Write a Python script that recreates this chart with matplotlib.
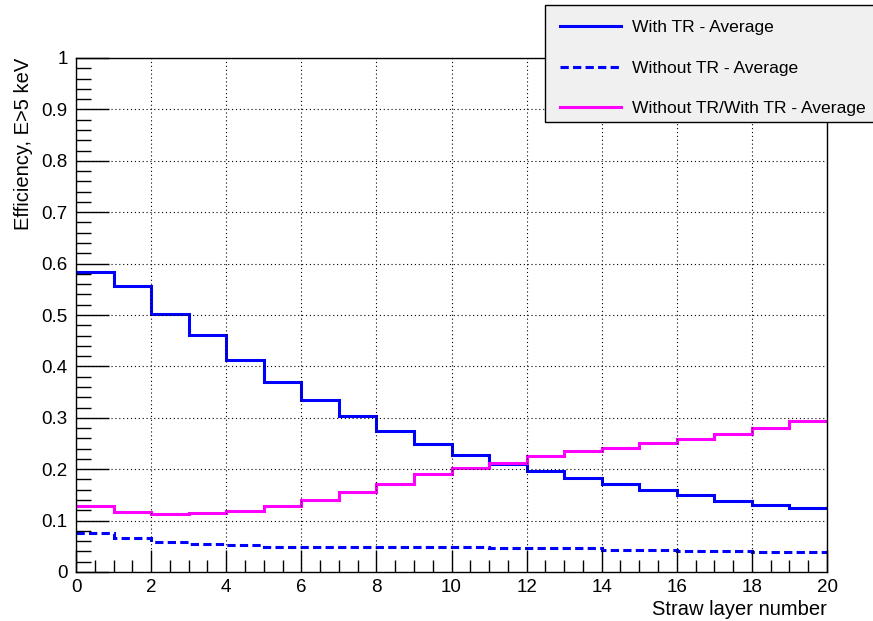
import numpy as np
import matplotlib
matplotlib.use("Agg")
import matplotlib.pyplot as plt
from matplotlib.patches import Rectangle
from matplotlib.ticker import MultipleLocator

# bin edges: straw layers 0..20
edges = np.arange(0, 21)

with_tr = [0.584, 0.556, 0.502, 0.461, 0.413, 0.370, 0.335, 0.304, 0.275,
           0.249, 0.227, 0.211, 0.197, 0.183, 0.171, 0.159, 0.149, 0.139,
           0.131, 0.124]
without_tr = [0.076, 0.067, 0.059, 0.055, 0.052, 0.049, 0.048, 0.048, 0.048,
              0.048, 0.048, 0.046, 0.046, 0.046, 0.043, 0.043, 0.041, 0.041,
              0.038, 0.038]
ratio = [0.128, 0.117, 0.113, 0.115, 0.119, 0.128, 0.141, 0.156, 0.172,
         0.190, 0.202, 0.212, 0.225, 0.236, 0.241, 0.251, 0.258, 0.269,
         0.280, 0.293]

labels = ["With TR - Average", "Without TR - Average",
          "Without TR/With TR - Average"]

plt.rcParams["font.family"] = ["Liberation Sans", "DejaVu Sans"]

W, H = 873, 621
fig = plt.figure(figsize=(W / 100, H / 100), dpi=100)
ax = fig.add_axes([76 / W, 1 - 572 / H, 751 / W, 514 / H])

ax.stairs(with_tr, edges, baseline=None, color="#0000ff", lw=2.2,
          label=labels[0])
ax.stairs(without_tr, edges, baseline=None, color="#0000ff", lw=2.2,
          ls=(0, (2.7, 1.4)), label=labels[1])
ax.stairs(ratio, edges, baseline=None, color="#ff00ff", lw=2.2,
          label=labels[2])

ax.set_xlim(0, 20)
ax.set_ylim(0, 1)
ax.xaxis.set_minor_locator(MultipleLocator(0.5))
ax.yaxis.set_minor_locator(MultipleLocator(0.02))
ax.set_yticks(np.arange(0, 1.01, 0.1))
ax.set_yticklabels(["0", "0.1", "0.2", "0.3", "0.4", "0.5", "0.6", "0.7",
                    "0.8", "0.9", "1"])
ax.set_xticks(np.arange(0, 21, 2))
ax.set_xticklabels([str(v) for v in range(0, 21, 2)])

ax.tick_params(axis="both", which="both", direction="in", top=False,
               right=False, labelsize=13.5, width=1.0)
ax.tick_params(axis="y", which="major", length=24, pad=6)
ax.tick_params(axis="y", which="minor", length=11)
ax.tick_params(axis="x", which="major", length=16, pad=5)
ax.tick_params(axis="x", which="minor", length=9)
ax.grid(True, which="major", color="black", ls=(0, (1, 2.5)), lw=0.8)
for sp in ax.spines.values():
    sp.set_linewidth(1.0)

ax.set_xlabel("Straw layer number", fontsize=14.5, loc="right", labelpad=3)
ax.set_ylabel("Efficiency, E>5 keV", fontsize=14.5, loc="top", labelpad=6)

# legend box (ROOT TLegend style), drawn separately so its size matches
box = Rectangle((545 / W, 1 - 122 / H), 340 / W, 117 / H,
                transform=fig.transFigure, facecolor="#f0f0f0",
                edgecolor="black", lw=1.0, zorder=5)
fig.patches.append(box)

leg = fig.legend(loc="upper left",
                 bbox_to_anchor=(545 / W, 1 - 122 / H, 340 / W, 117 / H),
                 mode="expand", fontsize=12.6, handlelength=3.5,
                 labelspacing=1.45, borderpad=0.85, handletextpad=0.6,
                 frameon=False, borderaxespad=0)
leg.set_zorder(6)

fig.savefig("out.png", dpi=100)
